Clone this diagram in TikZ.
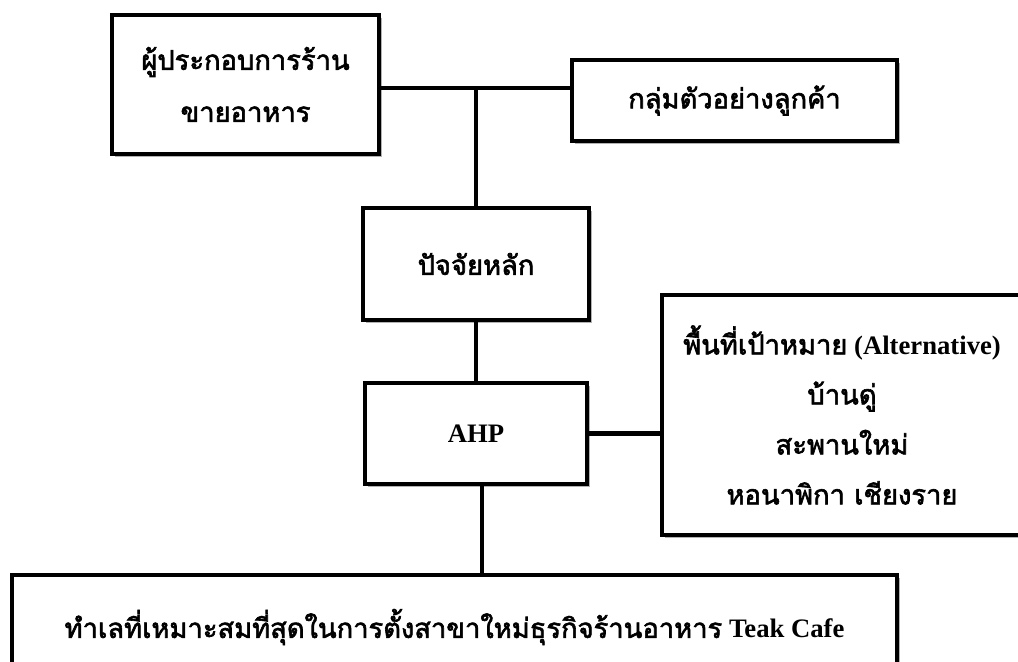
\documentclass[tikz,border=0pt]{standalone}
\usepackage{fontspec}
\setmainfont{Liberation Serif}
\newfontfamily\thf[Script=Thai,AutoFakeBold=2.2]{Loma}
\usetikzlibrary{shadows}
\begin{document}
\begin{tikzpicture}[x=0.75pt,y=-0.75pt,
  box/.style={draw=black,line width=3.4pt,fill=white,inner sep=0pt,align=center,
    font=\bfseries\fontsize{20.5}{39}\selectfont,
    drop shadow={shadow xshift=2pt,shadow yshift=-2pt,opacity=0.3,fill=black}},
  conn/.style={line width=3.4pt,draw=black}]
\useasboundingbox (0,0) rectangle (1018,661);
\node[box,minimum width=267*0.75pt,minimum height=139*0.75pt] (b1) at (245.5,84.5)
  {\thf ผู้ประกอบการร้าน\\\thf ขายอาหาร};
\node[box,minimum width=325*0.75pt,minimum height=81*0.75pt] (b2) at (734.5,100.5)
  {\thf กลุ่มตัวอย่างลูกค้า};
\node[box,minimum width=226*0.75pt,minimum height=112*0.75pt] (b3) at (476,264)
  {\thf ปัจจัยหลัก};
\node[box,minimum width=222*0.75pt,minimum height=101*0.75pt,font=\bfseries\fontsize{20}{24}\selectfont] (ahp) at (476,433.5)
  {AHP};
\node[box,minimum width=360*0.75pt,minimum height=240*0.75pt,font=\bfseries\fontsize{20.5}{37.5}\selectfont] (alt) at (842,415)
  {{\thf พื้นที่เป้าหมาย} {\fontsize{20}{37.5}\selectfont (Alternative)}\\\thf บ้านดู่\\\thf สะพานใหม่\\\thf หอนาพิกา เชียงราย};
\node[box,minimum width=885*0.75pt,minimum height=104*0.75pt] (bot) at (454.5,627)
  {{\thf ทำเลที่เหมาะสมที่สุดในการตั้งสาขาใหม่ธุรกิจร้านอาหาร} {\fontsize{20}{24}\selectfont Teak Cafe}};
\coordinate (j1) at (476,88);
\coordinate (j2) at (482,500);
\draw[conn] (b1.east |- j1) -- (b2.west |- j1);
\draw[conn] (j1) -- (b3.north);
\draw[conn] (b3.south) -- (ahp.north);
\draw[conn] (ahp.east) -- (ahp.east -| alt.west);
\draw[conn] (ahp.south -| j2) -- (j2 |- bot.north);
\end{tikzpicture}
\end{document}
